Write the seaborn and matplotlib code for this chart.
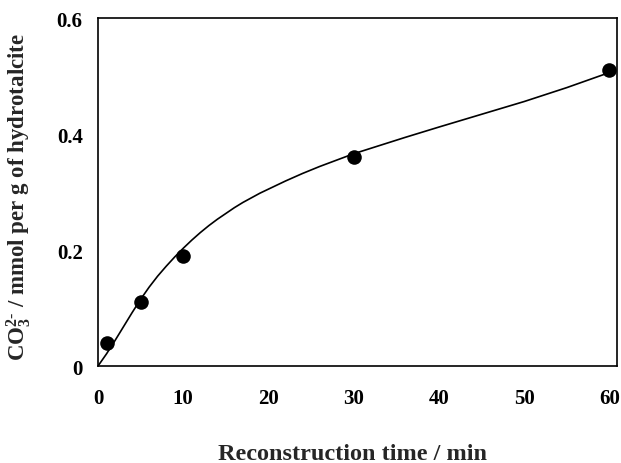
import matplotlib
matplotlib.use("Agg")
import matplotlib.pyplot as plt
import seaborn as sns
import pandas as pd

# measured data points
time_min = [1, 5, 10, 30, 60]
co3_mmol = [0.04, 0.11, 0.19, 0.36, 0.51]

# fitted curve
curve_time = [0, 1, 2, 3, 4, 5, 6, 7, 8, 9, 10, 11, 12, 13, 14, 15, 16, 17, 18, 19, 20,
              22, 24, 26, 28, 30, 33, 36, 40, 45, 50, 55, 60]
curve_co3 = [0.0, 0.021, 0.044, 0.068, 0.092, 0.115, 0.136, 0.155, 0.172, 0.188, 0.203,
             0.217, 0.230, 0.242, 0.253, 0.263, 0.273, 0.282, 0.290, 0.298, 0.305,
             0.319, 0.332, 0.344, 0.355, 0.366, 0.380, 0.394, 0.412, 0.434, 0.456,
             0.480, 0.506]

x_ticks = [0, 10, 20, 30, 40, 50, 60]
y_ticks = [0, 0.2, 0.4, 0.6]
y_tick_labels = ["0", "0.2", "0.4", "0.6"]

sns.set_theme(style="white")
plt.rcParams["font.family"] = ["Liberation Serif", "DejaVu Serif"]
plt.rcParams["font.weight"] = "bold"
plt.rcParams["mathtext.fontset"] = "custom"
plt.rcParams["mathtext.rm"] = "Liberation Serif:bold"
plt.rcParams["mathtext.bf"] = "Liberation Serif:bold"
plt.rcParams["mathtext.it"] = "Liberation Serif:bold"
plt.rcParams["mathtext.default"] = "bf"

pts = pd.DataFrame({"t": time_min, "c": co3_mmol})
fit = pd.DataFrame({"t": curve_time, "c": curve_co3})

fig = plt.figure(figsize=(6.21, 4.64), dpi=100)
ax = fig.add_axes([0.1578, 0.209, 0.8358, 0.750])

sns.lineplot(data=fit, x="t", y="c", ax=ax, color="black", linewidth=1.2, sort=True)
sns.scatterplot(data=pts, x="t", y="c", ax=ax, color="black", s=110, edgecolor="black",
                linewidth=0, zorder=3, clip_on=False)

ax.set_xlim(0, 60.9)
ax.set_ylim(0, 0.6)
ax.set_xticks(x_ticks)
ax.set_xticklabels([str(v) for v in x_ticks])
ax.set_yticks(y_ticks)
ax.set_yticklabels(y_tick_labels)

for sp in ax.spines.values():
    sp.set_visible(True)
    sp.set_color("black")
    sp.set_linewidth(1.2)

ax.tick_params(axis="both", direction="in", length=5, width=0.7, color="black",
               labelsize=15, labelcolor="black")
ax.tick_params(axis="x", pad=16)
ax.tick_params(axis="y", pad=11)
for lab in ax.get_xticklabels() + ax.get_yticklabels():
    lab.set_fontweight("bold")

ax.set_xlabel("Reconstruction time / min", fontsize=17.5, fontweight="bold")
ax.set_ylabel(r"CO$_3^{2\text{-}}$ / mmol per g of hydrotalcite", fontsize=16.5,
              fontweight="bold")
ax.xaxis.set_label_coords(0.491, -0.222)
ax.yaxis.set_label_coords(-0.125, 0.49)

fig.savefig("out.png", dpi=100)
